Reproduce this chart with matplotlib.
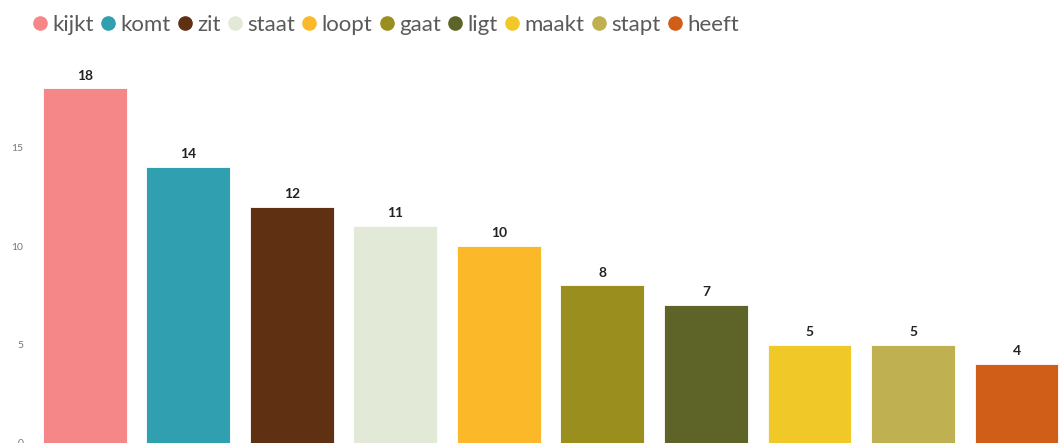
import matplotlib
matplotlib.use("Agg")
from matplotlib import pyplot as plt
from matplotlib.lines import Line2D

# data
words = ["kijkt", "komt", "zit", "staat", "loopt", "gaat", "ligt", "maakt", "stapt", "heeft"]
counts = [18, 14, 12, 11, 10, 8, 7, 5, 5, 4]
colors = ["#F68788", "#30A0B0", "#5F3012", "#E3E9D7", "#FBB829",
          "#9A8E1E", "#5E6428", "#F0C929", "#BFB152", "#D05E19"]
yticks = [0, 5, 10, 15]

plt.rcParams['font.family'] = ['Lato', 'DejaVu Sans']

W, H = 1059, 443
fig = plt.figure(figsize=(W / 100, H / 100), dpi=100)
ax = fig.add_axes([33 / W, 0, 1 - 33 / W, 383 / H])

x = range(len(words))
bars = ax.bar(x, counts, width=0.81, color=colors, edgecolor="#ffffff", linewidth=0.6)
for xi, v in zip(x, counts):
    ax.text(xi, v + 0.35, str(v), ha="center", va="bottom",
            fontsize=10, fontweight="bold", color="#222222")

ax.set_xlim(-0.5, 9.41)
ax.set_ylim(0, 383 / 19.7)
ax.set_yticks(yticks)
ax.set_yticklabels([str(t) for t in yticks], fontsize=7.5, color="#777777")
ax.tick_params(axis="y", length=0, pad=7)
ax.set_xticks([])
for s in ax.spines.values():
    s.set_visible(False)

handles = [Line2D([0], [0], marker="o", linestyle="", markersize=9.5,
                  markerfacecolor=c, markeredgecolor=c) for c in colors]
leg = fig.legend(handles, words, loc="upper left", bbox_to_anchor=(0.006, 1.012),
                 ncol=len(words), frameon=False, handletextpad=-0.05,
                 columnspacing=0.05, handlelength=1.2, fontsize=16,
                 labelcolor="#5a5a5a")

fig.savefig("out.png", dpi=100)
